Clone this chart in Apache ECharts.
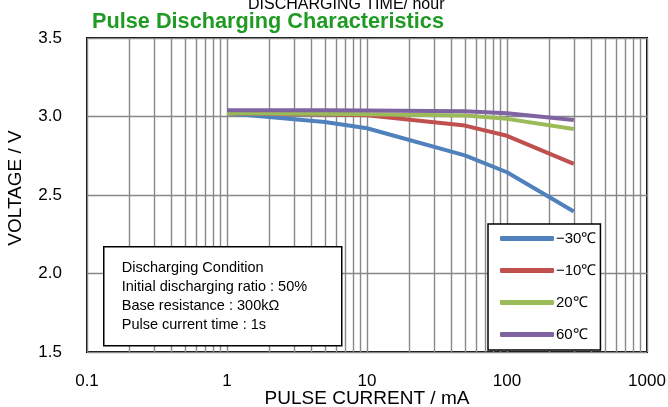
<!DOCTYPE html>
<html>
<head>
<meta charset="utf-8">
<script src="https://cdn.jsdelivr.net/npm/echarts@6/dist/echarts.min.js"></script>
<style>html,body{margin:0;padding:0;background:#fff;}#c{width:668px;height:407px;}</style>
</head>
<body>
<div id="c"></div>
<script>
// ---- data ----
var currents = [1, 5, 10, 50, 100, 300];
var seriesNames = ['\u221230\u2103', '\u221210\u2103', '20\u2103', '60\u2103'];
var vMinus30 = [3.02, 2.965, 2.925, 2.752, 2.645, 2.395];
var vMinus10 = [3.02, 3.015, 3.008, 2.942, 2.877, 2.698];
var v20 = [3.02, 3.018, 3.015, 3.006, 2.985, 2.92];
var v60 = [3.04, 3.04, 3.038, 3.033, 3.02, 2.978];
var minorGridX = [0.2,0.3,0.4,0.5,0.6,0.7,0.8,0.9, 2,3,4,5,6,7,8,9, 20,30,40,50,60,70,80,90, 200,300,400,500,600,700,800,900];
var titleTop = 'DISCHARGING TIME/ hour';
var titleMain = 'Pulse Discharging Characteristics';
var xName = 'PULSE CURRENT / mA';
var yName = 'VOLTAGE / V';
var noteLines = ['Discharging Condition', 'Initial discharging ratio : 50%', 'Base resistance : 300k\u03a9', 'Pulse current time : 1s'];

var colors = ['#4f81bd', '#c0504d', '#9bbb59', '#8064a2'];
var FONT = 'Liberation Sans, Arial, sans-serif';

function pairs(vals){ return currents.map(function(x,i){ return [x, vals[i]]; }); }
var allVals = [vMinus30, vMinus10, v20, v60];

var chart = echarts.init(document.getElementById('c'));
var series = [{
  name: 'minor', type: 'line', data: [], silent: true, z: 1,
  markLine: {
    silent: true, symbol: 'none', animation: false, z: 1,
    label: {show: false},
    lineStyle: {color: '#888', width: 1.4, type: 'solid'},
    data: minorGridX.map(function(v){ return {xAxis: v}; })
  }
}];
allVals.forEach(function(vals, i){
  series.push({
    name: seriesNames[i], type: 'line', data: pairs(vals),
    showSymbol: false, symbol: 'none', z: 3,
    lineStyle: {color: colors[i], width: 4},
    itemStyle: {color: colors[i]}
  });
});

chart.setOption({
  animation: false,
  textStyle: {fontFamily: FONT},
  title: [
    {text: titleTop, left: 243, top: -8, textStyle: {fontFamily: FONT, fontSize: 16, fontWeight: 'normal', color: '#000'}},
    {text: titleMain, left: 87, top: 6, textStyle: {fontFamily: FONT, fontSize: 21.7, fontWeight: 'bold', color: '#1f9a23'}}
  ],
  grid: {left: 87, right: 21, top: 38, bottom: 55, containLabel: false, outerBoundsMode: 'none',
    show: true, borderColor: '#000', borderWidth: 2, backgroundColor: 'transparent'},
  xAxis: {
    type: 'log', logBase: 10, min: 0.1, max: 1000,
    name: xName, nameLocation: 'middle', nameGap: 37, nameMoveOverlap: false,
    nameTextStyle: {fontFamily: FONT, fontSize: 19, color: '#000'},
    axisLine: {show: false}, axisTick: {show: false},
    axisLabel: {fontFamily: FONT, fontSize: 17, color: '#000', margin: 21,
      formatter: function(v){ return String(v); }},
    splitLine: {show: true, lineStyle: {color: '#888', width: 1.4}}
  },
  yAxis: {
    type: 'value', min: 1.5, max: 3.5, interval: 0.5,
    name: yName, nameLocation: 'middle', nameGap: 62, nameMoveOverlap: false,
    nameTextStyle: {fontFamily: FONT, fontSize: 19, color: '#000', padding: [0, 0, 0, 14]},
    axisLine: {show: false}, axisTick: {show: false},
    axisLabel: {fontFamily: FONT, fontSize: 17, color: '#000', margin: 25,
      formatter: function(v){ return v.toFixed(1); }},
    splitLine: {show: true, lineStyle: {color: '#888', width: 1.4}}
  },
  legend: {
    data: seriesNames, orient: 'vertical', left: 488, top: 224, z: 10,
    width: 113, height: 121,
    backgroundColor: '#fff', borderColor: '#000', borderWidth: 1.5,
    padding: [7, 4, 8, 12], itemGap: 17, itemWidth: 54, itemHeight: 5,
    icon: 'roundRect',
    textStyle: {fontFamily: FONT, fontSize: 15, color: '#000', padding: [0,0,0,-3]}
  },
  graphic: [{
    type: 'group', left: 103, top: 246, z: 20,
    children: [
      {type: 'rect', z: 20, shape: {x: 0, y: 0, width: 238, height: 99},
       style: {fill: '#fff', stroke: '#000', lineWidth: 1.5}},
      {type: 'text', z: 21, left: 18, top: 12,
       style: {text: noteLines.join('\n'), fontFamily: FONT, fontSize: 14.5, lineHeight: 19, fill: '#000'}}
    ]
  }],
  series: series
});
</script>
</body>
</html>
